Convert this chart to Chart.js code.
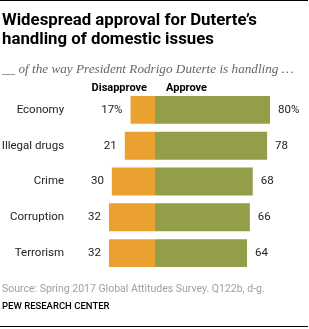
<!DOCTYPE html>
<html>
<head>
<meta charset="utf-8">
<script src="https://cdn.jsdelivr.net/npm/chart.js@4"></script>
<style>
  html, body { margin: 0; padding: 0; background: #fff; }
  body { width: 309px; height: 329px; position: relative; overflow: hidden; }
  #wrap { position: absolute; left: 0; top: 0; width: 309px; height: 329px; }
  .t { position: absolute; left: 2px; white-space: nowrap; }
  #topline { position: absolute; left: 0; top: 0; width: 308px; height: 1px; background: #000; }
  #botline { position: absolute; left: 0; top: 326px; width: 308px; height: 1px; background: #000; }
  #title { top: 10px; font: bold 16.8px Roboto, "Liberation Sans", sans-serif; line-height: 19px; color: #000; }
  #sub { top: 61px; font: italic 13.2px "Liberation Serif", "DejaVu Serif", serif; line-height: 15px; color: #666; }
  #src { top: 282px; font: 10.5px Roboto, "Liberation Sans", sans-serif; line-height: 13px; color: #a0a0a0; }
  #pew { top: 300px; font: 500 9.5px Roboto, "Liberation Sans", sans-serif; line-height: 12px; color: #000; }
</style>
</head>
<body>
<div id="wrap"><canvas id="c" width="309" height="329"></canvas></div>
<div id="topline"></div>
<div class="t" id="title">Widespread approval for Duterte’s<br>handling of domestic issues</div>
<div class="t" id="sub">__ of the way President Rodrigo Duterte is handling …</div>
<div class="t" id="src">Source: Spring 2017 Global Attitudes Survey. Q122b, d-g.</div>
<div class="t" id="pew">PEW RESEARCH CENTER</div>
<div id="botline"></div>
<script>
const categories = ["Economy", "Illegal drugs", "Crime", "Corruption", "Terrorism"];
const disapprove = [17, 21, 30, 32, 32];
const approve = [80, 78, 68, 66, 64];
const seriesNames = ["Disapprove", "Approve"];

const labelPlugin = {
  id: "labels",
  afterDatasetsDraw(chart) {
    const ctx = chart.ctx;
    ctx.save();
    ctx.textBaseline = "middle";
    ctx.font = "11.5px Roboto, 'Liberation Sans', sans-serif";
    ctx.fillStyle = "#222";
    const m0 = chart.getDatasetMeta(0);
    const m1 = chart.getDatasetMeta(1);
    m0.data.forEach((el, i) => {
      ctx.textAlign = "right";
      const txt = disapprove[i] + (i === 0 ? "%" : "");
      ctx.fillText(txt, el.x - 8, el.y);
    });
    m1.data.forEach((el, i) => {
      ctx.textAlign = "left";
      const txt = approve[i] + (i === 0 ? "%" : "");
      ctx.fillText(txt, el.x + 8, el.y);
    });
    // column headers
    const x0 = chart.scales.x.getPixelForValue(0);
    ctx.font = "bold 11px Roboto, 'Liberation Sans', sans-serif";
    ctx.fillStyle = "#000";
    ctx.textAlign = "right";
    ctx.fillText(seriesNames[0], x0 - 8, 88);
    ctx.textAlign = "left";
    ctx.fillText(seriesNames[1], x0 + 11, 88);
    ctx.restore();
  }
};

new Chart(document.getElementById("c"), {
  type: "bar",
  data: {
    labels: categories,
    datasets: [
      { label: seriesNames[0], data: disapprove.map(v => -v), backgroundColor: "#EBA12F", borderWidth: 0 },
      { label: seriesNames[1], data: approve, backgroundColor: "#949D48", borderWidth: 0 }
    ]
  },
  options: {
    indexAxis: "y",
    responsive: false,
    animation: false,
    devicePixelRatio: 1,
    layout: { padding: { top: 92, bottom: 58, left: 0, right: 10.25 } },
    plugins: { legend: { display: false }, tooltip: { enabled: false }, title: { display: false } },
    datasets: { bar: { categoryPercentage: 1, barPercentage: 0.78 } },
    scales: {
      x: { stacked: true, min: -50, max: 100, display: false },
      y: {
        stacked: true,
        grid: { display: false, drawTicks: false },
        border: { display: false },
        ticks: { padding: 19, color: "#222", font: { family: "Roboto, 'Liberation Sans', sans-serif", size: 11.5 } },
        afterFit(scale) { scale.width = 83.1; }
      }
    }
  },
  plugins: [labelPlugin]
});
</script>
</body>
</html>
